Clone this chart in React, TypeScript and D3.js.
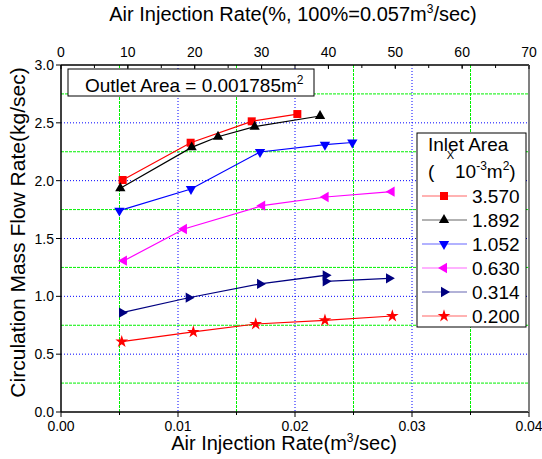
import React from "react";
import * as d3 from "d3";

// inlet area series (x: m3/sec, y: kg/sec)
const inletLabels = ["3.570", "1.892", "1.052", "0.630", "0.314", "0.200"];
const x3570 = [0.00527, 0.01108, 0.0163, 0.0202];
const y3570 = [2.006, 2.328, 2.513, 2.576];
const x1892 = [0.00507, 0.01117, 0.01342, 0.01655, 0.02214];
const y1892 = [1.934, 2.288, 2.38, 2.467, 2.559];
const x1052 = [0.00499, 0.01111, 0.01701, 0.02256, 0.0249];
const y1052 = [1.741, 1.928, 2.248, 2.311, 2.33];
const x0630 = [0.00538, 0.01051, 0.0172, 0.02262, 0.02826];
const y0630 = [1.308, 1.582, 1.784, 1.859, 1.905];
const x0314 = [0.00521, 0.01091, 0.01701, 0.02262, 0.02262, 0.02803];
const y0314 = [0.859, 0.988, 1.107, 1.182, 1.13, 1.156];
const x0200 = [0.00519, 0.01131, 0.01664, 0.02256, 0.02832];
const y0200 = [0.608, 0.692, 0.761, 0.793, 0.83];

const xTicks = [0, 0.01, 0.02, 0.03, 0.04];
const yTicks = [0, 0.5, 1, 1.5, 2, 2.5, 3];
const pctTicks = [0, 10, 20, 30, 40, 50, 60, 70];

const series = [
  { xs: x3570, ys: y3570, color: "#ff0000", marker: "square" },
  { xs: x1892, ys: y1892, color: "#000000", marker: "up" },
  { xs: x1052, ys: y1052, color: "#0000ff", marker: "down" },
  { xs: x0630, ys: y0630, color: "#ff00ff", marker: "left" },
  { xs: x0314, ys: y0314, color: "#000080", marker: "right" },
  { xs: x0200, ys: y0200, color: "#ff0000", marker: "star" },
];

const W = 542, H = 459;
const L = 61, R = 529, T = 65, B = 412;
const font = "'Liberation Sans', Arial, sans-serif";

const x = d3.scaleLinear().domain([0, 0.04]).range([L, R]);
const xp = d3.scaleLinear().domain([0, 70]).range([L, R]);
const y = d3.scaleLinear().domain([0, 3]).range([B, T]);

const tri = d3.symbol(d3.symbolTriangle, 46)()!;
const sq = d3.symbol(d3.symbolSquare, 64)()!;
const star = d3.symbol(d3.symbolStar, 50)()!;

function Marker({ type, cx, cy, color }: { type: string; cx: number; cy: number; color: string }) {
  const rot: Record<string, number> = { up: 0, down: 180, left: -90, right: 90 };
  let d = tri;
  if (type === "square") d = sq;
  if (type === "star") d = star;
  const r = rot[type] ?? 0;
  return <path d={d} fill={color} transform={`translate(${cx},${cy}) rotate(${r})`} />;
}

export default function App() {
  const line = d3.line<number>();
  const minorX = d3.range(0.005, 0.04, 0.01);
  const minorY = d3.range(0.25, 3, 0.5);
  const majorXg = [0.01, 0.02, 0.03];
  const majorYg = [0.5, 1, 1.5, 2, 2.5];
  const pctMinor = d3.range(5, 70, 5);
  const legY = [196, 220, 244, 268, 292, 316];
  return (
    <svg width={W} height={H} style={{ position: "absolute", left: 0, top: 0, background: "#fff" }} fontFamily={font}>
      <rect x={0} y={0} width={W} height={H} fill="#fff" />
      {/* grid */}
      {minorX.map((v) => (
        <line key={"gx" + v} x1={x(v)} x2={x(v)} y1={T} y2={B} stroke="#00f000" strokeDasharray="3,1" strokeWidth={1} />
      ))}
      {majorXg.map((v) => (
        <line key={"bx" + v} x1={x(v)} x2={x(v)} y1={T} y2={B} stroke="#0000ff" strokeDasharray="1,2" strokeWidth={1} />
      ))}
      {minorY.map((v) => (
        <line key={"gy" + v} x1={L} x2={R} y1={y(v)} y2={y(v)} stroke="#00f000" strokeDasharray="3,1" strokeWidth={1} />
      ))}
      {majorYg.map((v) => (
        <line key={"by" + v} x1={L} x2={R} y1={y(v)} y2={y(v)} stroke="#0000ff" strokeDasharray="1,2" strokeWidth={1} />
      ))}

      {/* axes */}
      <line x1={L} x2={R} y1={B} y2={B} stroke="#000" strokeWidth={1.5} />
      <line x1={L} x2={L} y1={T} y2={B} stroke="#000" strokeWidth={1.5} />
      <line x1={L} x2={R} y1={T} y2={T} stroke="#000" strokeWidth={1.5} />
      <line x1={R} x2={R} y1={T} y2={B} stroke="#808080" strokeWidth={2} />

      {xTicks.map((v) => (
        <g key={"xt" + v}>
          <line x1={x(v)} x2={x(v)} y1={B} y2={B + 5} stroke="#000" />
          <text x={x(v)} y={B + 19} fontSize={14} textAnchor="middle">{d3.format(".2f")(v)}</text>
        </g>
      ))}
      {minorX.map((v) => (
        <line key={"xm" + v} x1={x(v)} x2={x(v)} y1={B} y2={B + 3} stroke="#000" />
      ))}
      {yTicks.map((v) => (
        <g key={"yt" + v}>
          <line x1={L - 5} x2={L} y1={y(v)} y2={y(v)} stroke="#000" />
          <text x={L - 7} y={y(v) + 5} fontSize={14} textAnchor="end">{d3.format(".1f")(v)}</text>
        </g>
      ))}
      {pctTicks.map((v) => (
        <g key={"pt" + v}>
          <line x1={xp(v)} x2={xp(v)} y1={T} y2={T + 4} stroke="#000" />
          <text x={xp(v)} y={T - 8} fontSize={14} textAnchor="middle">{v}</text>
        </g>
      ))}
      {pctMinor.map((v) => (
        <line key={"pm" + v} x1={xp(v)} x2={xp(v)} y1={T} y2={T + 3} stroke="#000" />
      ))}

      {/* titles */}
      <text x={293} y={21} fontSize={20} textAnchor="middle">
        Air Injection Rate(%, 100%=0.057m<tspan dy={-8} fontSize={12}>3</tspan><tspan dy={8}>/sec)</tspan>
      </text>
      <text x={284} y={450} fontSize={20} textAnchor="middle">
        Air Injection Rate(m<tspan dy={-8} fontSize={12}>3</tspan><tspan dy={8}>/sec)</tspan>
      </text>
      <text transform={`translate(25,${(T + B) / 2 - 6}) rotate(-90)`} fontSize={21} textAnchor="middle">
        Circulation Mass Flow Rate(kg/sec)
      </text>

      {/* series */}
      {series.map((s, i) => (
        <g key={"s" + i}>
          <path
            d={line(s.xs.map((v, j) => [x(v), y(s.ys[j])] as [number, number]))!}
            fill="none"
            stroke={s.color}
            strokeWidth={1.2}
          />
          {s.xs.map((v, j) => (
            <Marker key={j} type={s.marker} cx={x(v)} cy={y(s.ys[j])} color={s.color} />
          ))}
        </g>
      ))}

      {/* outlet area box */}
      <rect x={68} y={69} width={246} height={27} fill="#fff" stroke="#000" strokeWidth={1} />
      <text x={85} y={92} fontSize={19}>
        Outlet Area = 0.001785m<tspan dy={-8} fontSize={12}>2</tspan>
      </text>

      {/* legend */}
      <rect x={417} y={133} width={109} height={194} fill="#fff" stroke="#000" strokeWidth={1} />
      <text x={428} y={151} fontSize={19}>Inlet Area</text>
      <text x={450.5} y={159} fontSize={11} textAnchor="middle">X</text>
      <text x={428} y={178} fontSize={19}>
        (
        <tspan x={455}>10</tspan>
        <tspan dy={-8} fontSize={12}>-3</tspan>
        <tspan dy={8}>m</tspan>
        <tspan dy={-8} fontSize={12}>2</tspan>
        <tspan dy={8}>)</tspan>
      </text>
      {series.map((s, i) => (
        <g key={"lg" + i}>
          <line x1={422} x2={467} y1={legY[i]} y2={legY[i]} stroke={s.color} strokeOpacity={0.6} strokeWidth={1.2} />
          <Marker type={s.marker} cx={444} cy={legY[i]} color={s.color} />
          <text x={472} y={legY[i] + 7} fontSize={19}>{inletLabels[i]}</text>
        </g>
      ))}
    </svg>
  );
}
